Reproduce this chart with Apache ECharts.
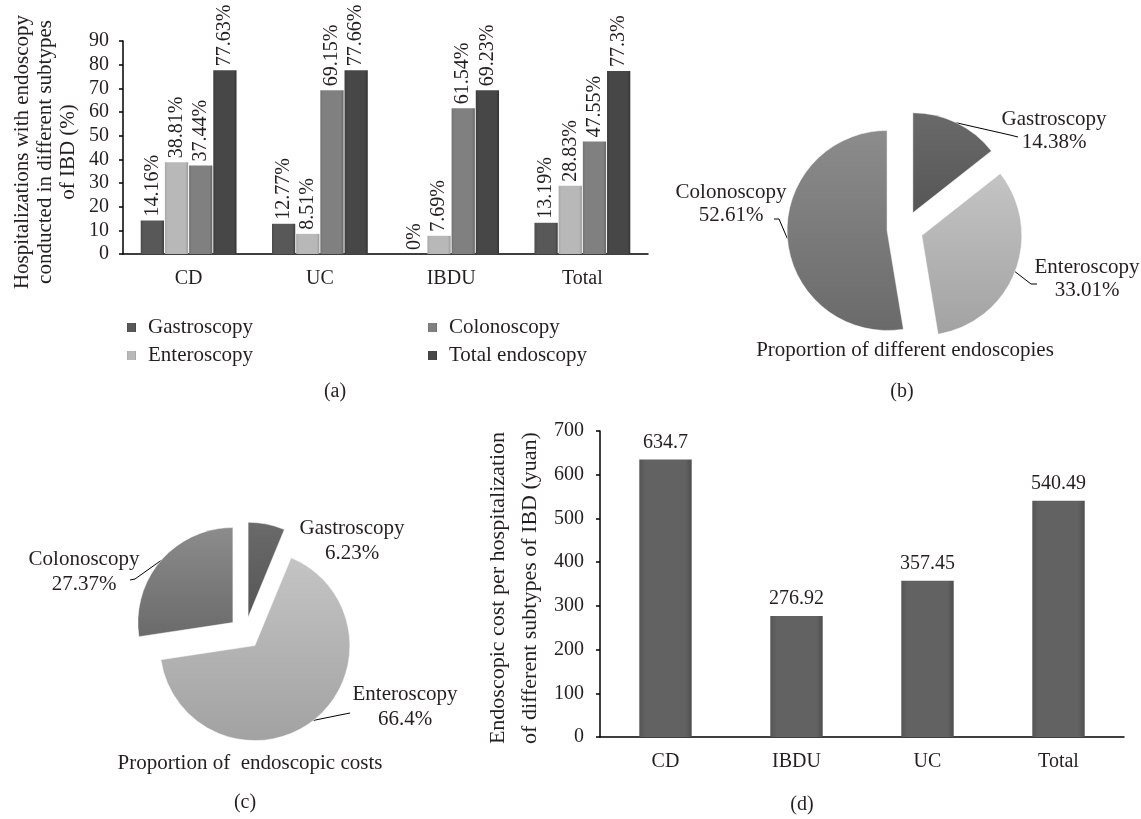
<!DOCTYPE html>
<html>
<head>
<meta charset="utf-8">
<script src="https://cdn.jsdelivr.net/npm/echarts@6/dist/echarts.min.js"></script>
<style>
html,body{margin:0;padding:0;background:#fff;}
#c{width:1141px;height:819px;}
</style>
</head>
<body>
<div id="c"></div>
<script>
// ---- data ----
const catsA = ['CD', 'UC', 'IBDU', 'Total'];
const seriesNamesA = ['Gastroscopy', 'Enteroscopy', 'Colonoscopy', 'Total endoscopy'];
const gastroA = [14.16, 12.77, 0, 13.19];
const enteroA = [38.81, 8.51, 7.69, 28.83];
const colonoA = [37.44, 69.15, 61.54, 47.55];
const totalA = [77.63, 77.66, 69.23, 77.3];

const pieNames = ['Gastroscopy', 'Enteroscopy', 'Colonoscopy'];
const pieB = [14.38, 33.01, 52.61];
const pieC = [6.23, 66.4, 27.37];

const catsD = ['CD', 'IBDU', 'UC', 'Total'];
const costD = [634.7, 276.92, 357.45, 540.49];

// ---- styles / layout ----
const FONT = '"Liberation Serif", "Times New Roman", serif';
const TXT = '#231f20';
function hbevel(c0, c1, c2) {
  return { type: 'linear', x: 0, y: 0, x2: 1, y2: 0,
    colorStops: [{offset: 0, color: c0}, {offset: 0.12, color: c1}, {offset: 0.88, color: c1}, {offset: 1, color: c2}] };
}
function vgrad(a, b) {
  return { type: 'linear', x: 0, y: 0, x2: 0, y2: 1,
    colorStops: [{offset: 0, color: a}, {offset: 1, color: b}] };
}
const barColorsA = [
  hbevel('#4a4a4a', '#585858', '#3e3e3e'),
  hbevel('#a8a8a8', '#b8b8b8', '#9a9a9a'),
  hbevel('#737373', '#808080', '#666666'),
  hbevel('#3c3c3c', '#474747', '#333333')
];
const pieColors = [vgrad('#6a6a6a', '#565656'), vgrad('#c4c4c4', '#a2a2a2'), vgrad('#8c8c8c', '#6a6a6a')];
const valsA = [gastroA, enteroA, colonoA, totalA];

// label anchor positions and label-line end points for the pies (layout only)
const labelPosB = [[1054, 131], [1087, 279], [731, 204]];
const lineEndB = [[[1010, 135], [1018, 137]], [[1031, 284], [1037, 284]], [[779, 219], [774, 219]]];
const labelPosC = [[352, 541], [405, 707], [84, 572]];
const lineEndC = [null, [[340, 715], [350, 713]], [[135, 579], [130, 580]]];

const axisLineStyle = { color: '#000', width: 1.5 };
function catAxis(grid, data) {
  return { type: 'category', gridIndex: grid, data: data,
    axisLine: { lineStyle: axisLineStyle },
    axisTick: { length: 5, lineStyle: axisLineStyle },
    axisLabel: { color: TXT, fontFamily: FONT, fontSize: 20, margin: 15 } };
}
function valAxis(grid, max, interval, margin) {
  return { type: 'value', gridIndex: grid, min: 0, max: max, interval: interval,
    splitLine: { show: false },
    axisLine: { show: true, lineStyle: axisLineStyle },
    axisTick: { show: true, length: 4, lineStyle: axisLineStyle },
    axisLabel: { color: TXT, fontFamily: FONT, fontSize: 20, margin: margin } };
}

// exploded pie: one series per slice, each shifted along its own mid-angle
function explodedPie(vals, C, r, off, labelPos, lineEnds, lh) {
  const total = vals.reduce((a, b) => a + b, 0);
  let cum = 0;
  return vals.map((v, k) => {
    const mid = (cum + v / 2) / total * Math.PI * 2;
    cum += v;
    const cx = C[0] + off * Math.sin(mid);
    const cy = C[1] - off * Math.cos(mid);
    return {
      type: 'pie', center: [cx, cy], radius: r, startAngle: 90, clockwise: true,
      avoidLabelOverlap: false, silent: true, animation: false,
      emphasis: { disabled: true },
      data: vals.map((vv, i) => ({
        name: pieNames[i], value: vv,
        itemStyle: i === k
          ? { color: pieColors[i], borderColor: 'rgba(255,255,255,0.45)', borderWidth: 1 }
          : { opacity: 0, borderWidth: 0 },
        label: { show: i === k },
        labelLine: { show: i === k && !!lineEnds[i] }
      })),
      label: {
        position: 'outside', formatter: '{b}\n{c}%', overflow: 'none',
        color: TXT, fontFamily: FONT, fontSize: 21, lineHeight: lh, align: 'center'
      },
      labelLine: { length: 10, length2: 10, lineStyle: { color: '#000', width: 1 } },
      labelLayout: function (p) {
        const L = labelPos[k];
        const o = { x: L[0], y: L[1], align: 'center', verticalAlign: 'middle' };
        if (lineEnds[k] && p.labelLinePoints) {
          o.labelLinePoints = [p.labelLinePoints[0]].concat(lineEnds[k]);
        }
        return o;
      }
    };
  });
}

const chart = echarts.init(document.getElementById('c'), null, { renderer: 'canvas' });

const graphicTexts = [
  { x: 22, y: 152, t: 'Hospitalizations with endoscopy', rot: true, fs: 21 },
  { x: 45, y: 152, t: 'conducted in different subtypes', rot: true, fs: 21 },
  { x: 68, y: 152, t: 'of IBD (%)', rot: true, fs: 21 },
  { x: 498, y: 588, t: 'Endoscopic cost per hospitalization', rot: true, fs: 22 },
  { x: 530, y: 588, t: 'of different subtypes of IBD (yuan)', rot: true, fs: 22 },
  { x: 905, y: 350, t: 'Proportion of different endoscopies', fs: 21 },
  { x: 250, y: 763, t: 'Proportion of  endoscopic costs', fs: 21 },
  { x: 335, y: 392, t: '(a)', fs: 20 },
  { x: 902, y: 392, t: '(b)', fs: 20 },
  { x: 245, y: 803, t: '(c)', fs: 20 },
  { x: 802, y: 805, t: '(d)', fs: 20 }
].map(g => ({
  type: 'text', x: g.x, y: g.y, rotation: g.rot ? Math.PI / 2 : 0, silent: true,
  style: { text: g.t, font: g.fs + 'px ' + FONT, fill: TXT, textAlign: 'center', textVerticalAlign: 'middle' }
}));

const legendText = { color: TXT, fontFamily: FONT, fontSize: 21, padding: [0, 0, 0, 7] };

const option = {
  backgroundColor: '#fff',
  animation: false,
  grid: [
    { left: 123, top: 41, width: 525, height: 213 },
    { left: 600, top: 431, width: 524, height: 306 }
  ],
  xAxis: [catAxis(0, catsA), catAxis(1, catsD)],
  yAxis: [valAxis(0, 90, 10, 14), valAxis(1, 700, 100, 16)],
  legend: [
    { left: 122, top: 312, orient: 'vertical', itemGap: 7, itemWidth: 9, itemHeight: 9, icon: 'rect',
      data: ['Gastroscopy', 'Enteroscopy'], textStyle: legendText },
    { left: 423, top: 312, orient: 'vertical', itemGap: 7, itemWidth: 9, itemHeight: 9, icon: 'rect',
      data: ['Colonoscopy', 'Total endoscopy'], textStyle: legendText }
  ],
  graphic: graphicTexts,
  series: seriesNamesA.map((n, i) => ({
    name: n, type: 'bar', xAxisIndex: 0, yAxisIndex: 0, data: valsA[i],
    barCategoryGap: '27%', barGap: '4%',
    itemStyle: { color: barColorsA[i] },
    label: { show: true, position: 'top', rotate: 90, align: 'left', verticalAlign: 'middle', distance: 4,
      formatter: p => p.value + '%', color: TXT, fontFamily: FONT, fontSize: 20 }
  })).concat([
    {
      name: 'Cost', type: 'bar', xAxisIndex: 1, yAxisIndex: 1, data: costD, barWidth: '40%',
      itemStyle: { color: hbevel('#555555', '#626262', '#4e4e4e') },
      label: { show: true, position: 'top', distance: 7, color: TXT, fontFamily: FONT, fontSize: 20 }
    }
  ]).concat(explodedPie(pieB, [905, 229], 100, 18, labelPosB, lineEndB, 23))
    .concat(explodedPie(pieC, [245, 633], 95, 16, labelPosC, lineEndC, 25))
};
chart.setOption(option);
</script>
</body>
</html>
